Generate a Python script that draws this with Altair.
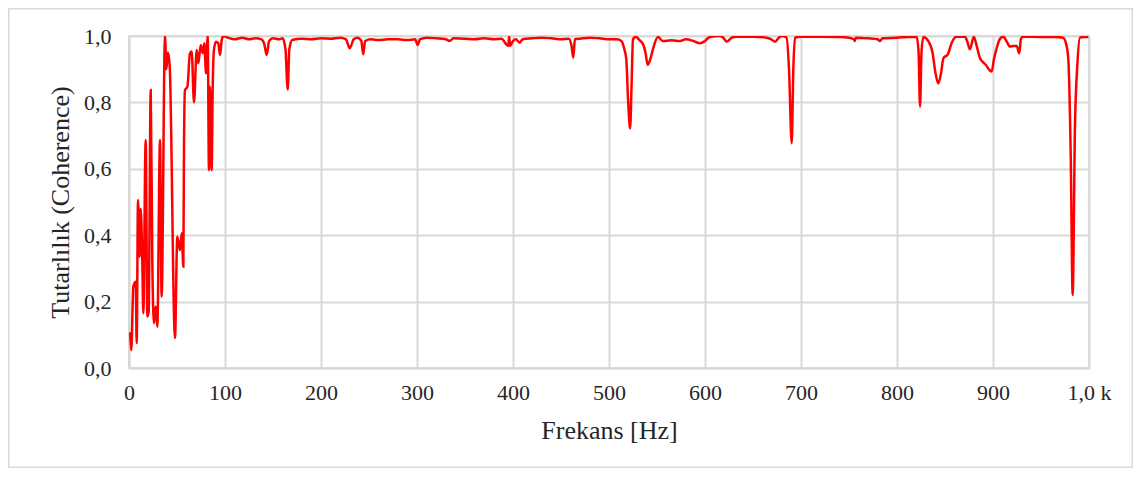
import altair as alt
import pandas as pd

freq = [0.5, 1, 2.4, 4.5, 7, 8, 9.4, 11.1, 12.2, 13.9, 14.9, 17.4, 19.1, 20.5, 22.6, 24.3, 26, 27.8, 29.5,
        32.3, 34, 37.5, 38.9, 40.6, 42.4, 47.9, 50.3, 53.1, 54.9, 56.6, 57.3, 58.3, 60.8, 63.5, 65.3, 67.7,
        70.5, 72.2, 74.7, 76.8, 78.5, 80.2, 82, 83.3, 84.4, 86.1, 87.2, 88.5, 90.6, 93, 94.8, 96.6, 98.2,
        103, 110, 118, 125, 132, 138, 141, 143.4, 146, 150, 156, 160, 163, 165.3, 167, 170, 180, 190, 200,
        210, 220, 226, 230, 234, 238, 242, 244, 246, 252, 260, 270, 280, 290, 298, 300.7, 303, 310, 320,
        330, 334, 338, 350, 360, 370, 380, 388, 393, 395, 396, 397, 400, 403, 407, 410, 420, 430, 440, 450,
        458, 461, 462.8, 464.5, 470, 480, 490, 500, 508, 513, 516, 518, 520, 522, 523.5, 525, 528, 531,
        535.8, 538, 540.3, 543, 546, 551, 556, 565, 574, 580, 588, 594.8, 600, 605, 615.6, 619, 622.6, 628,
        633, 650, 664, 669, 673, 677, 680, 685, 687.5, 690.3, 692, 693.8, 700, 720, 740, 750, 755, 756, 757,
        770, 780, 782, 785, 800, 810, 820.5, 822.5, 824, 825.5, 827.4, 832.6, 837, 840, 843, 846, 848.3,
        853, 857, 862, 870.8, 873, 876, 880, 883, 886.5, 892, 898.6, 901, 903.8, 907, 910.8, 914, 917.7,
        921, 924.7, 927.4, 929, 931, 950, 965, 973, 976.7, 978.4, 981, 983, 985.4, 987.8, 990.6, 995, 999.3]

coherence = [0.10, 0.105, 0.054, 0.245, 0.26, 0.075, 0.506, 0.335, 0.48, 0.316, 0.165, 0.687, 0.155, 0.17,
             0.837, 0.316, 0.135, 0.185, 0.124, 0.687, 0.215, 1.0, 0.90, 0.95, 0.91, 0.09, 0.395, 0.355,
             0.406, 0.305, 0.677, 0.837, 0.847, 0.948, 0.953, 0.80, 0.958, 0.918, 0.973, 0.948, 0.978,
             0.888, 1.0, 0.596, 0.847, 0.596, 0.847, 0.958, 0.983, 0.978, 0.943, 0.988, 1.0,
             0.995, 0.99, 0.995, 0.99, 0.993, 0.99, 0.975, 0.943, 0.985, 0.993, 0.99, 0.993, 0.96, 0.839,
             0.96, 0.988, 0.992, 0.99, 0.993, 0.992, 0.995, 0.99, 0.963, 0.99, 0.995, 0.985, 0.945, 0.985,
             0.99, 0.988, 0.99, 0.99, 0.988, 0.99, 0.973, 0.99, 0.995, 0.993, 0.99, 0.985, 0.993, 0.992,
             0.99, 0.993, 0.99, 0.992, 0.975, 0.97, 1.0, 0.97, 0.985, 0.99, 0.98, 0.99, 0.993, 0.995, 0.993,
             0.99, 0.992, 0.97, 0.935, 0.99, 0.992, 0.995, 0.993, 0.99, 0.99, 0.985, 0.96, 0.93, 0.8, 0.722,
             0.85, 0.99, 0.998, 0.99, 0.973, 0.95, 0.913, 0.93, 0.963, 0.997, 0.985, 0.987, 0.985, 0.99,
             0.985, 0.978, 0.985, 0.997, 1.0, 0.995, 0.983, 0.995, 0.998, 0.998, 0.995, 0.99, 0.983, 0.995,
             1.0, 0.995, 0.9, 0.677, 0.9, 0.995, 0.998, 0.998, 0.997, 0.995, 0.99, 0.985, 0.995, 0.993,
             0.99, 0.985, 0.993, 0.995, 0.997, 0.998, 0.95, 0.787, 0.95, 0.997, 0.985, 0.95, 0.89, 0.857,
             0.89, 0.933, 0.945, 0.98, 0.998, 0.998, 0.985, 0.96, 0.998, 0.97, 0.933, 0.915, 0.893, 0.93,
             0.963, 0.99, 0.998, 0.985, 0.968, 0.97, 0.97, 0.948, 0.99, 0.998, 0.997, 0.997, 0.995, 0.97,
             0.933, 0.632, 0.22, 0.73, 0.91, 0.995, 0.997, 0.997]

x_ticks = [0, 100, 200, 300, 400, 500, 600, 700, 800, 900, 1000]
x_tick_labels = ["0", "100", "200", "300", "400", "500", "600", "700", "800", "900", "1,0 k"]
y_ticks = [0.0, 0.2, 0.4, 0.6, 0.8, 1.0]
y_tick_labels = ["0,0", "0,2", "0,4", "0,6", "0,8", "1,0"]

df = pd.DataFrame({"f": freq, "c": coherence})

x_expr = "{" + ",".join(f"'{v}':'{l}'" for v, l in zip(x_ticks, x_tick_labels)) + "}[datum.value]"
y_expr = "{" + ",".join(f"'{v:.1f}':'{l}'" for v, l in zip(y_ticks, y_tick_labels)) + "}[format(datum.value, '.1f')]"

FONT = "Liberation Serif"
W, H = 960, 332
PAD = {"left": 121, "right": 44, "top": 28, "bottom": 100}

line = alt.Chart(df).mark_line(color="#ff0000", strokeWidth=2.5, interpolate="monotone", clip=True).encode(
    x=alt.X("f:Q", scale=alt.Scale(domain=[0, 1000], nice=False),
            axis=alt.Axis(values=x_ticks, labelExpr=x_expr, title="Frekans [Hz]", grid=True,
                          ticks=False, labelPadding=14, titlePadding=14, labelFlush=False)),
    y=alt.Y("c:Q", scale=alt.Scale(domain=[0, 1], nice=False),
            axis=alt.Axis(values=y_ticks, labelExpr=y_expr, title="Tutarlılık (Coherence)", grid=True,
                          ticks=False, labelPadding=18, titlePadding=10)),
)

frame = alt.Chart(pd.DataFrame({"k": [0]})).mark_rect(
    fill=None, fillOpacity=0, stroke="#d9d9d9", strokeWidth=1.5, clip=False
).encode(
    x=alt.value(-PAD["left"] + 0.75),
    x2=alt.value(W + PAD["right"] - 0.75),
    y=alt.value(-PAD["top"] + 0.75),
    y2=alt.value(H + PAD["bottom"] - 0.75),
)

chart = alt.layer(line, frame).properties(
    width=W, height=H, padding=PAD, autosize=alt.AutoSizeParams(type="none"),
    background="white"
).configure_view(stroke="#d9d9d9", strokeWidth=2).configure_axis(
    domainColor="#d9d9d9", domainWidth=2, gridColor="#d9d9d9", gridWidth=2,
    labelFont=FONT, labelFontSize=22, labelColor="#262626",
    titleFont=FONT, titleFontSize=26, titleColor="#262626", titleFontWeight="normal",
)

chart.save("out.html", embed_options={"renderer": "svg", "actions": False})
